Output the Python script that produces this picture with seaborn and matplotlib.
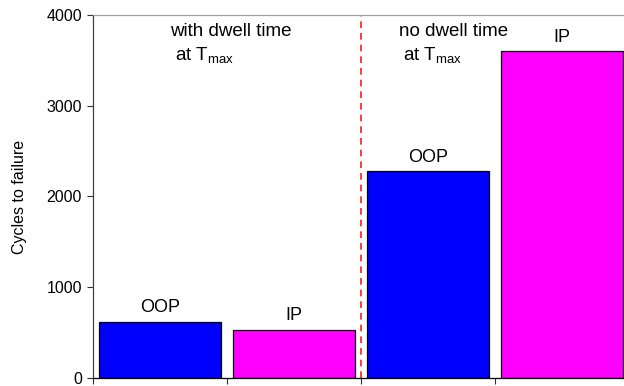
import matplotlib
matplotlib.use("Agg")
import matplotlib.pyplot as plt
import pandas as pd
import seaborn as sns

# bar data
groups = ["with_OOP", "with_IP", "no_OOP", "no_IP"]
loading = ["OOP", "IP", "OOP", "IP"]
cycles = [620, 530, 2280, 3600]
y_ticks = [0, 1000, 2000, 3000, 4000]
colors = {"OOP": "#0000ff", "IP": "#ff00ff"}

df = pd.DataFrame({"group": groups, "loading": loading, "cycles": cycles})

sns.set_style("white")
plt.rcParams["font.family"] = ["Liberation Sans", "DejaVu Sans"]
plt.rcParams["mathtext.fontset"] = "custom"
plt.rcParams["mathtext.rm"] = "Liberation Sans"
plt.rcParams["text.color"] = "black"
plt.rcParams["axes.labelcolor"] = "black"
plt.rcParams["ytick.color"] = "black"
plt.rcParams["xtick.color"] = "black"

fig = plt.figure(figsize=(6.24, 3.86), dpi=100)
ax = fig.add_axes([0.149, 0.021, 0.859, 0.940])

sns.barplot(
    data=df, x="group", y="cycles", hue="loading", palette=colors,
    dodge=False, width=0.91, edgecolor="black", linewidth=0.9,
    saturation=1, legend=False, ax=ax, order=groups
)

# labels above the bars (match by x position, patches come grouped by hue)
for patch in ax.patches:
    xc = patch.get_x() + patch.get_width() / 2
    lab = loading[int(round(xc))]
    ax.annotate(
        lab, (xc, patch.get_height()),
        xytext=(0, 4), textcoords="offset points",
        ha="center", va="bottom", fontsize=13
    )

# divider between the two test series
ax.axvline(1.5, color="#ff1a1a", linestyle=(0, (4, 3)), linewidth=1.2)

ax.text(0.075, 3824, "with dwell time", fontsize=13.5, va="center")
ax.text(0.11, 3548, r"at T$_{\mathrm{max}}$", fontsize=13.5, va="center")
ax.text(1.78, 3824, "no dwell time", fontsize=13.5, va="center")
ax.text(1.81, 3548, r"at T$_{\mathrm{max}}$", fontsize=13.5, va="center")

ax.set_xlim(-0.5, 3.5)
ax.set_ylim(0, 4000)
ax.set_yticks(y_ticks)
ax.set_yticklabels([str(v) for v in y_ticks], fontsize=11.5)
ax.set_xticks([-0.5, 0.5, 1.5, 2.5, 3.5])
ax.set_xticklabels([])
ax.set_xlabel("")
ax.set_ylabel("Cycles to failure", fontsize=11.5, labelpad=14)

ax.tick_params(axis="both", direction="out", length=4, width=0.8,
               color="#303030", left=True, bottom=True, pad=4)
ax.spines["left"].set_color("#404040")
ax.spines["bottom"].set_color("black")
ax.spines["top"].set_color("#a0a0a0")
ax.spines["right"].set_visible(False)
for s in ax.spines.values():
    s.set_linewidth(0.9)

fig.savefig("out.png", dpi=100)
